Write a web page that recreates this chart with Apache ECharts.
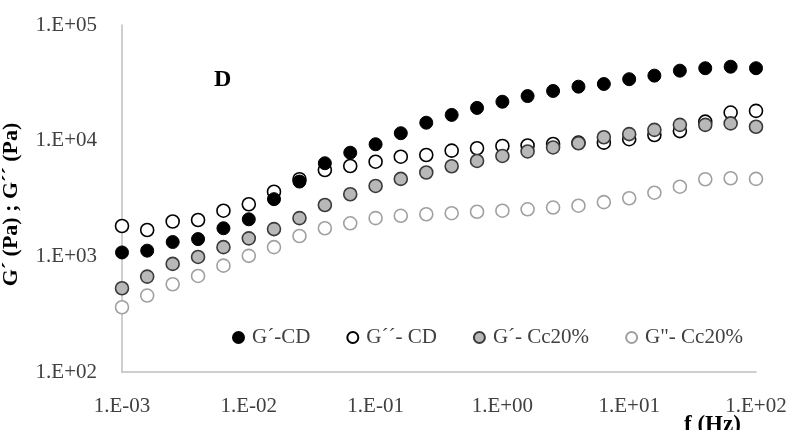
<!DOCTYPE html>
<html>
<head>
<meta charset="utf-8">
<script src="https://cdn.jsdelivr.net/npm/echarts@6/dist/echarts.min.js"></script>
<style>
  html, body { margin: 0; padding: 0; background: #fff; }
  #chart { width: 786px; height: 430px; }
</style>
</head>
<body>
<div id="chart"></div>
<script>
// frequency (Hz), 0.2 decade steps
var freq = [0.001, 0.00158, 0.00251, 0.00398, 0.00631, 0.01, 0.0158, 0.0251, 0.0398, 0.0631,
  0.1, 0.158, 0.251, 0.398, 0.631, 1, 1.58, 2.51, 3.98, 6.31,
  10, 15.8, 25.1, 39.8, 63.1, 100];

var gpCD = [1080, 1120, 1330, 1410, 1750, 2090, 3120, 4430, 6380, 7870,
  9310, 11600, 14300, 16700, 19200, 21700, 24300, 26900, 29300, 30900,
  34000, 36500, 40300, 42300, 43600, 42300];
var gppCD = [1830, 1690, 2000, 2060, 2480, 2820, 3620, 4640, 5580, 6040,
  6580, 7270, 7520, 8200, 8600, 9000, 9090, 9370, 9610, 9610,
  10300, 11200, 12100, 14600, 17500, 18100];
var gpCc = [530, 668, 860, 988, 1200, 1430, 1720, 2140, 2780, 3440,
  4060, 4670, 5310, 6010, 6680, 7380, 8070, 8740, 9500, 10700,
  11400, 12400, 13700, 13700, 14100, 13200];
var gppCc = [363, 458, 574, 677, 831, 1010, 1200, 1500, 1750, 1930,
  2140, 2240, 2310, 2360, 2430, 2480, 2550, 2640, 2740, 2940,
  3180, 3550, 4000, 4640, 4730, 4670];

var legendNames = ["G\u00b4-CD", "G\u00b4\u00b4- CD", "G\u00b4- Cc20%", "G\"- Cc20%"];

function pairs(ys) {
  return freq.map(function (f, i) { return [f, ys[i]]; });
}
function expLabel(v) {
  var e = Math.round(Math.log10(v));
  return "1.E" + (e < 0 ? "-" : "+") + String(Math.abs(e)).padStart(2, "0");
}

var font = "Liberation Serif";
var chart = echarts.init(document.getElementById("chart"));
var option = {
  animation: false,
  textStyle: { fontFamily: font },
  title: [
    {
      text: "D",
      left: 214,
      top: 68,
      padding: 0,
      textStyle: { fontFamily: font, fontSize: 24, fontWeight: "bold", color: "#000" }
    },
    {
      // x axis title, cut off by the bottom edge like the original
      text: "f (Hz)",
      left: 684,
      top: 414,
      padding: 0,
      textStyle: { fontFamily: font, fontSize: 23, fontWeight: "bold", color: "#000" }
    }
  ],
  legend: {
    data: legendNames,
    left: 232,
    top: 327,
    icon: "circle",
    itemWidth: 11,
    itemHeight: 11,
    itemGap: 36,
    padding: 0,
    textStyle: { fontFamily: font, fontSize: 21, color: "#404040", padding: [0, 0, 0, 3] }
  },
  grid: { left: 122, right: 30, top: 25, bottom: 58, containLabel: false, outerBoundsMode: "none" },
  xAxis: {
    type: "log",
    logBase: 10,
    min: 0.001,
    max: 100,
    axisLine: { lineStyle: { color: "#bfbfbf", width: 1.5 } },
    axisTick: { show: false },
    splitLine: { show: false },
    axisLabel: { formatter: expLabel, fontFamily: font, fontSize: 21, color: "#404040", margin: 24 }
  },
  yAxis: {
    type: "log",
    logBase: 10,
    min: 100,
    max: 100000,
    name: "G\u00b4 (Pa) ; G\u00b4\u00b4 (Pa)",
    nameLocation: "middle",
    nameGap: 100,
    nameTextStyle: { fontFamily: font, fontSize: 22, fontWeight: "bold", color: "#000", padding: [0, 12, 0, 0] },
    axisLine: { show: true, lineStyle: { color: "#bfbfbf", width: 1.5 } },
    axisTick: { show: false },
    splitLine: { show: false },
    axisLabel: { formatter: expLabel, fontFamily: font, fontSize: 21, color: "#404040", margin: 25 }
  },
  series: [
    {
      name: legendNames[0], type: "scatter", symbolSize: 13, z: 3,
      itemStyle: { color: "#000", borderColor: "#000", borderWidth: 1, opacity: 1 },
      data: pairs(gpCD)
    },
    {
      name: legendNames[1], type: "scatter", symbolSize: 13, z: 2,
      itemStyle: { color: "#fff", borderColor: "#000", borderWidth: 1.6, opacity: 1 },
      data: pairs(gppCD)
    },
    {
      name: legendNames[2], type: "scatter", symbolSize: 13, z: 4,
      itemStyle: { color: "#b8b8b8", borderColor: "#3a3a3a", borderWidth: 1.6, opacity: 1 },
      data: pairs(gpCc)
    },
    {
      name: legendNames[3], type: "scatter", symbolSize: 13, z: 2,
      itemStyle: { color: "#fff", borderColor: "#a0a0a0", borderWidth: 1.6, opacity: 1 },
      data: pairs(gppCc)
    }
  ]
};
chart.setOption(option);
</script>
</body>
</html>
